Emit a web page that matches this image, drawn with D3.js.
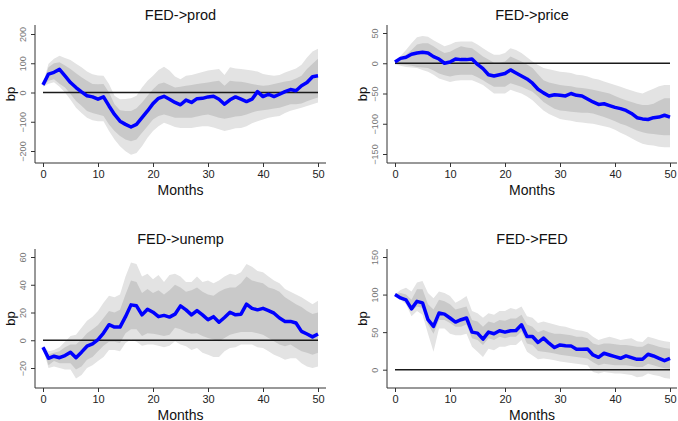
<!DOCTYPE html>
<html>
<head>
<meta charset="utf-8">
<script src="https://cdn.jsdelivr.net/npm/d3@7"></script>
<style>
  body { margin: 0; background: #fff; }
  svg { display: block; font-family: 'Liberation Sans', Arial, sans-serif; }
</style>
</head>
<body>
<svg id="chart" width="678" height="421"></svg>
<script>
// horizon (months) 0..50
const months = d3.range(0, 51)

// FED -> prod
const prodIrf = [26,63,69,79,57,34,17,2,-11,-15,-23,-15,-46,-75,-98,-109,-118,-109,-86,-63,-38,-20,-13,-23,-34,-42,-26,-34,-21,-20,-15,-13,-23,-40,-25,-15,-23,-31,-23,3,-14,-6,-14,-6,3,10,6,23,34,54,57]
const prodHi90 = [30,98,115,126,118,111,98,86,72,62,58,57,29,-11,-23,-22,-20,-11,17,40,57,77,88,75,55,45,57,60,65,70,75,78,80,60,86,82,80,78,75,72,63,60,57,60,68,75,82,95,120,140,150]
const prodHi68 = [30,86,100,103,92,80,66,52,40,29,28,29,0,-40,-61,-63,-63,-54,-34,-11,11,29,34,26,17,20,23,26,29,32,34,38,40,23,40,38,37,33,29,26,23,25,29,33,38,40,48,57,80,98,115]
const prodLo68 = [22,40,45,30,17,-5,-29,-45,-63,-70,-75,-80,-109,-132,-149,-161,-167,-161,-138,-115,-92,-80,-75,-80,-86,-86,-86,-86,-82,-78,-75,-80,-86,-90,-86,-82,-80,-75,-68,-63,-61,-58,-55,-52,-46,-40,-40,-38,-30,-23,-17]
const prodLo90 = [20,30,35,20,0,-25,-52,-70,-86,-95,-98,-98,-132,-161,-184,-201,-213,-207,-184,-155,-132,-115,-103,-110,-118,-121,-121,-121,-118,-115,-115,-120,-126,-132,-127,-122,-121,-115,-105,-98,-92,-86,-83,-80,-70,-62,-57,-52,-46,-40,-34]

// FED -> price
const priceIrf = [2,8,10,15,17,18,17,11,7,0,2,7,6,6,7,-2,-9,-19,-21,-19,-17,-11,-16,-21,-26,-33,-43,-49,-54,-52,-53,-54,-50,-53,-54,-59,-64,-68,-67,-70,-73,-75,-78,-83,-90,-92,-93,-90,-89,-86,-89]
const priceHi90 = [3,12,22,33,43,45,44,38,33,28,31,35,36,36,36,31,25,19,14,14,17,25,22,17,10,3,-3,-8,-10,-12,-14,-15,-16,-19,-20,-22,-25,-27,-30,-33,-36,-39,-42,-45,-48,-50,-46,-42,-38,-36,-36]
const priceHi68 = [1,7,14,22,31,33,33,28,22,17,19,24,28,26,25,18,11,6,1,1,3,11,7,3,-2,-8,-18,-28,-32,-34,-36,-37,-38,-40,-41,-42,-44,-46,-48,-50,-54,-58,-61,-64,-67,-69,-69,-67,-62,-58,-58]
const priceLo68 = [-1,-2,-3,-4,-6,-7,-8,-12,-17,-20,-22,-20,-19,-19,-19,-23,-28,-34,-39,-39,-39,-33,-36,-39,-43,-47,-55,-64,-70,-75,-78,-79,-80,-81,-82,-82,-83,-86,-89,-92,-96,-100,-103,-107,-111,-114,-116,-117,-118,-119,-119]
const priceLo90 = [-2,-4,-6,-7,-8,-11,-14,-19,-25,-28,-31,-29,-28,-28,-28,-32,-36,-43,-50,-50,-50,-44,-47,-50,-55,-61,-70,-78,-84,-88,-92,-94,-95,-97,-98,-99,-100,-102,-104,-106,-110,-115,-119,-124,-129,-133,-135,-136,-138,-139,-139]

// FED -> unemp
const unempIrf = [-5,-13,-11.5,-12.6,-11,-8.6,-12.6,-8.6,-4.3,-2.6,0.5,5.2,11.2,9.5,9.5,17,25.5,24.8,18.3,22.4,20.2,17,17.9,16.7,18.8,24.8,21.9,18.3,21.4,18.3,14.8,17,13,16.4,20.2,18.3,18.8,26,23,21.9,23,21.4,19.5,16,13.6,13.6,12.4,6.4,4.5,2.4,4.5]
const unempHi90 = [-4,-8,-7,-5,-1,3,4,9,14,17,21,27,32,31,33,46,56,55,46,48,44,47,42,47,48,46,42,42,46,42,43,41,43,46,48,47,49,55,53,50,49,46,43,41,37,35,33,31,28.5,26,28.5]
const unempHi68 = [-4.5,-10,-9,-8,-5,-3,-3,0.5,5,8,11,16,21,20,22,33,43,42,34,37,34,36,33,36,40,38,35,36,38,35,33,32,35,37,38,38,41,46,43,42,41,38,37,35,31,28.5,26,24,21,19,20]
const unempLo68 = [-5.5,-18,-15,-16.5,-16.5,-16.5,-21,-19,-14,-12,-8,-4,-1,-1,-2,5,8,8,3,5,4.6,4,3,4,9,8,6,4.6,5,3,1.7,0.5,-0.7,1.7,4,5,6,6,6,5,4,1.7,-0.7,-3,-4.4,-3,-5.6,-8,-9,-10.5,-9]
const unempLo90 = [-6,-20,-19,-20,-21,-21,-27.5,-25,-20,-18,-15,-12,-7,-7,-8,-2,0.5,-1,-4,-3,-3,-4,-5,-4,-0.7,-3,-4.4,-7,-5.6,-9,-10.5,-12,-12,-8,-5.6,-5,-3,-3,-3,-5,-5.6,-8,-10.5,-12,-14,-13,-13,-16.5,-19,-20,-19]

// FED -> FED
const fedIrf = [100,95.5,93,81,91,89,66.5,57.6,75.4,74,68.8,63.4,66.5,68.8,50,48.7,40.6,50,47.8,51.8,50,51.8,52.2,59.8,44.2,44.2,36.2,42,35.3,29.5,33,32,31.7,27.2,27.2,27.7,19.6,16.5,21.9,19.6,17.4,15.2,18.3,16,13.8,13.8,20.5,18.3,15.2,12,15.2]
const fedHi90 = [100,106,109,104,116,118,102,95,104,102,98,89,93,98,78,75,69,75,73,78,78,82,80,84,71,69,62,64,62,60,58,57,55,53,52,50,44,39.5,42,44,42,39.5,41,42,38,37,44,42,39.5,38,37]
const fedHi68 = [100,102,100,93,107,107,87,80,93,91,87,80,82,84,66,64,57,64,62,66,65,68,68,73,60,57,50,53,50,48,48,47,46,44,44,42,35,33,35,35,34,33,33,32,30.5,30.5,35,33,30.5,29,28]
const fedLo68 = [100,95.5,91,78,84,82,60,48,66,66,62,57,57,60,42,39.5,33,42,39.5,44,42,44,44,51,35,33,25,24,23,21.5,20,19,18,17,16,15,10,6,8,7,6,6,6,5,3.6,3.6,8,6,3.6,2,1.3]
const fedLo90 = [100,93,87,71,78,73,48,24,55,55,48,46,46,48,30.5,24,17,28,26,30.5,30.5,33,33,39.5,24,19,14,15,14,12.5,11,10,9,8,7,6,-3,-5,-3,-4,-5,-5,-6,-7,-10,-9,-5,-7,-8.5,-11,-12]

const titles = ['FED->prod', 'FED->price', 'FED->unemp', 'FED->FED']
const yTicks = [[-200, -100, 0, 100, 200], [-150, -100, -50, 0, 50], [-20, 0, 20, 40, 60], [0, 50, 100, 150]]
const xTicks = [0, 10, 20, 30, 40, 50]

const panels = [
  { title: titles[0], irf: prodIrf, hi90: prodHi90, hi68: prodHi68, lo68: prodLo68, lo90: prodLo90, ticks: yTicks[0],
    left: 35, right: 326, x0: 43, x50: 318, top: 25, bottom: 163, yDom: [-200, 200], yRange: [151, 34] },
  { title: titles[1], irf: priceIrf, hi90: priceHi90, hi68: priceHi68, lo68: priceLo68, lo90: priceLo90, ticks: yTicks[1],
    left: 387, right: 677, x0: 395, x50: 670, top: 25, bottom: 163, yDom: [-150, 50], yRange: [154, 33] },
  { title: titles[2], irf: unempIrf, hi90: unempHi90, hi68: unempHi68, lo68: unempLo68, lo90: unempLo90, ticks: yTicks[2],
    left: 35, right: 326, x0: 43, x50: 318, top: 249, bottom: 388, yDom: [-20, 60], yRange: [368, 257] },
  { title: titles[3], irf: fedIrf, hi90: fedHi90, hi68: fedHi68, lo68: fedLo68, lo90: fedLo90, ticks: yTicks[3],
    left: 387, right: 677, x0: 395, x50: 670, top: 249, bottom: 388, yDom: [0, 150], yRange: [369.7, 257] },
]

const svg = d3.select('#chart')

panels.forEach((p) => {
  const x = d3.scaleLinear().domain([0, 50]).range([p.x0, p.x50])
  const y = d3.scaleLinear().domain(p.yDom).range(p.yRange)
  const g = svg.append('g')

  const band = (lo, hi) =>
    d3.area()
      .x((d) => x(d))
      .y0((d) => y(lo[d]))
      .y1((d) => y(hi[d]))(months)

  g.append('path').attr('d', band(p.lo90, p.hi90)).attr('fill', '#e3e3e3')
  g.append('path').attr('d', band(p.lo68, p.hi68)).attr('fill', '#c9c9c9')

  // zero line
  g.append('line')
    .attr('x1', x(0)).attr('x2', x(50))
    .attr('y1', y(0)).attr('y2', y(0))
    .attr('stroke', '#1a1a1a').attr('stroke-width', 1.4)

  g.append('path')
    .attr('d', d3.line().x((d) => x(d)).y((d) => y(p.irf[d]))(months))
    .attr('fill', 'none')
    .attr('stroke', '#0000ff')
    .attr('stroke-width', 3.5)
    .attr('stroke-linejoin', 'round')

  // axes
  const xAxis = g.append('g').attr('transform', `translate(0,${p.bottom})`)
    .call(d3.axisBottom(x).tickValues(xTicks).tickSize(4).tickPadding(3))
  xAxis.select('.domain').attr('d', `M${p.left},0H${p.right}`)
  xAxis.selectAll('line').attr('stroke', '#333')
  xAxis.select('.domain').attr('stroke', '#333')
  xAxis.selectAll('text').attr('font-size', 11).attr('fill', '#222').attr('font-family', 'Liberation Sans, Arial, sans-serif')

  const yAxis = g.append('g').attr('transform', `translate(${p.left},0)`)
    .call(d3.axisLeft(y).tickValues(p.ticks).tickSize(4).tickFormat(d3.format('d')))
  yAxis.select('.domain').attr('d', `M0,${p.top}V${p.bottom}`).attr('stroke', '#333')
  yAxis.selectAll('line').attr('stroke', '#333')
  yAxis.selectAll('text')
    .attr('x', null).attr('dy', null)
    .attr('text-anchor', 'middle')
    .attr('transform', 'translate(-9,0) rotate(-90)')
    .attr('font-size', 9)
    .attr('fill', '#777')
    .attr('font-family', 'Liberation Sans, Arial, sans-serif')

  const midX = (p.left + p.right) / 2
  g.append('text')
    .attr('x', midX).attr('y', p.top - 5)
    .attr('text-anchor', 'middle')
    .attr('font-size', 14.5).attr('fill', '#111')
    .text(p.title)

  g.append('text')
    .attr('x', midX).attr('y', p.bottom + 32)
    .attr('text-anchor', 'middle')
    .attr('font-size', 14).attr('fill', '#111')
    .text('Months')

  g.append('text')
    .attr('transform', `translate(${p.left - 20},${(p.top + p.bottom) / 2}) rotate(-90)`)
    .attr('text-anchor', 'middle')
    .attr('font-size', 13).attr('fill', '#111')
    .text('bp')
})
</script>
</body>
</html>
